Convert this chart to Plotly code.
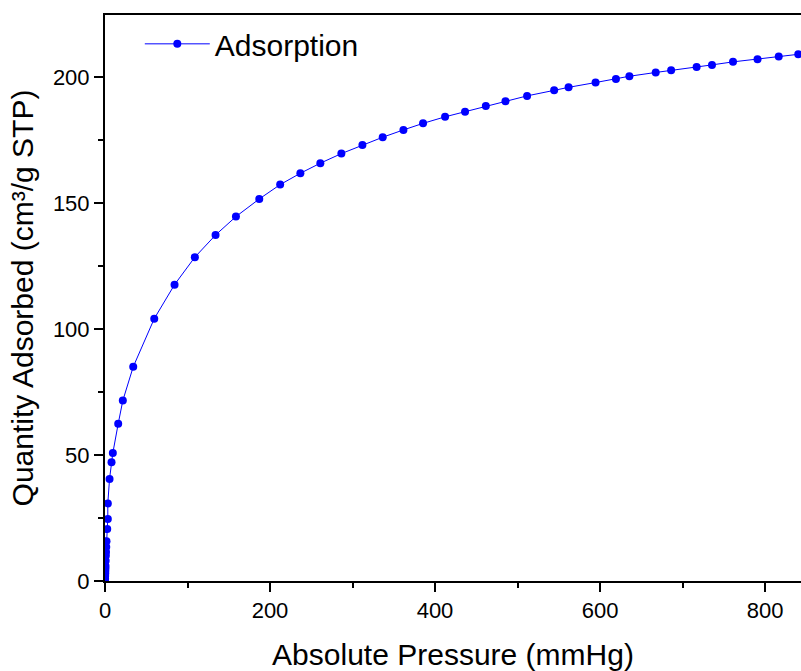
import plotly.graph_objects as go

# Absolute pressure (mmHg) and quantity adsorbed (cm³/g STP)
pressure = [0.05, 0.1, 0.2, 0.3, 0.4, 0.5, 0.6, 0.8, 1.0, 1.2, 1.5, 1.8,
            2.7, 3.4, 3.4, 5.5, 7.9, 9.5, 16.0, 21.6, 34.2, 59.7, 84.3, 108.9,
            134.0, 158.7, 187.0, 212.3, 236.8, 261.0, 286.5, 312.0, 336.6, 361.7,
            385.5, 412.2, 436.4, 461.6, 485.4, 511.6, 544.4, 561.9, 594.6, 619.3,
            635.6, 667.5, 686.2, 717.1, 735.7, 761.2, 790.9, 816.6, 840.3]
adsorbed = [0.5, 1.0, 2.0, 3.0, 4.0, 5.0, 6.0, 8.0, 10.0, 11.5, 13.5, 15.8,
            20.6, 24.6, 30.8, 40.5, 47.1, 50.8, 62.4, 71.6, 85.0, 104.1, 117.6, 128.5,
            137.3, 144.6, 151.6, 157.3, 161.8, 165.8, 169.6, 173.0, 176.1, 179.0,
            181.6, 184.2, 186.2, 188.5, 190.4, 192.5, 194.7, 195.9, 197.8, 199.2,
            200.3, 201.8, 202.7, 204.0, 204.8, 206.0, 207.0, 208.1, 209.0]

series_name = "Adsorption"
x_title = "Absolute Pressure (mmHg)"
y_title = "Quantity Adsorbed (cm³/g STP)"

FONT = "Arial, Liberation Sans, sans-serif"

fig = go.Figure()
fig.add_trace(go.Scatter(
    x=pressure, y=adsorbed, mode="lines+markers", name=series_name,
    line=dict(color="#0000FF", width=1),
    marker=dict(color="#0000FF", size=8, symbol="circle"),
))

axis_common = dict(
    showgrid=False, zeroline=False,
    showline=True, linecolor="black", linewidth=2,
    ticks="outside", ticklen=9, tickwidth=2, tickcolor="black",
    tickfont=dict(family=FONT, size=22, color="black"),
)

fig.update_xaxes(
    range=[0, 843.6], tick0=0, dtick=200, mirror=True,
    minor=dict(ticks="outside", ticklen=5, tickwidth=2, tickcolor="black", dtick=100, tick0=0),
    title=dict(text=x_title, font=dict(family=FONT, size=30, color="black"), standoff=22),
    **axis_common,
)
fig.update_yaxes(
    range=[0, 224.6], tick0=0, dtick=50,
    minor=dict(ticks="outside", ticklen=5, tickwidth=2, tickcolor="black", dtick=25, tick0=0),
    title=dict(text=y_title, font=dict(family=FONT, size=30, color="black"), standoff=10),
    **axis_common,
)

fig.update_layout(
    width=801, height=671,
    margin=dict(l=105, r=0, t=15, b=90),
    paper_bgcolor="white", plot_bgcolor="white",
    showlegend=True,
    legend=dict(x=0.05, y=0.995, xanchor="left", yanchor="top",
                itemwidth=65,
                bgcolor="rgba(0,0,0,0)", borderwidth=0,
                font=dict(family=FONT, size=30, color="black")),
)

fig.write_html("out.html")
